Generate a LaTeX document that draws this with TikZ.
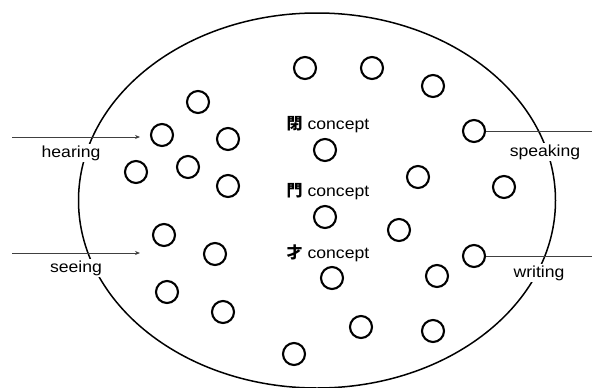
\documentclass[tikz,border=0pt]{standalone}
\usepackage{fontspec}
\setmainfont{Liberation Sans}[FakeStretch=1.1]
\newfontfamily\cjk{Noto Sans CJK JP}
\usetikzlibrary{arrows.meta}
\begin{document}
\begin{tikzpicture}[x=1pt,y=-1pt,
  dot/.style={circle,draw,line width=2.1pt,minimum size=22pt,inner sep=0pt},
  lab/.style={fill=white,inner sep=1.5pt,font=\fontsize{16}{19}\selectfont},
  con/.style={inner sep=1pt,font=\fontsize{16}{19}\selectfont},
  feed/.style={line width=0.8pt,draw=black!75,-{Stealth[length=5pt,width=4pt]}},
  outl/.style={line width=0.8pt,draw=black!75}]
\useasboundingbox (0,0) rectangle (592,388);
\draw[line width=1.5pt] (317,200.5) ellipse [x radius=238.5, y radius=187.5];
% circles
\node[dot] (c1) at (305,68) {};
\node[dot] (c2) at (372,68) {};
\node[dot] (c3) at (433,86) {};
\node[dot] (c4) at (198,102) {};
\node[dot] (c5) at (162,135) {};
\node[dot] (c6) at (228,139) {};
\node[dot] (c7) at (136,172) {};
\node[dot] (c8) at (188,167) {};
\node[dot] (c9) at (228,186) {};
\node[dot] (c10) at (325,150) {};
\node[dot] (c11) at (474,131) {};
\node[dot] (c12) at (418,177) {};
\node[dot] (c13) at (504,187) {};
\node[dot] (c14) at (325,217) {};
\node[dot] (c15) at (399,230) {};
\node[dot] (c16) at (164,235) {};
\node[dot] (c17) at (215,254) {};
\node[dot] (c18) at (474,256) {};
\node[dot] (c19) at (332,278) {};
\node[dot] (c20) at (437,276) {};
\node[dot] (c21) at (167,292) {};
\node[dot] (c22) at (223,312) {};
\node[dot] (c23) at (361,327) {};
\node[dot] (c24) at (433,331) {};
\node[dot] (c25) at (294,354) {};
% concept labels
\node[con] (k1) at (328,125) {{\cjk\bfseries 閉} concept};
\node[con] (k2) at (328,192) {{\cjk\bfseries 門} concept};
\node[con] (k3) at (328,253) {{\cjk\bfseries 才} concept};
% side labels
\node[lab] (hear) at (71,153) {hearing};
\node[lab] (see) at (76,268) {seeing};
\node[lab] (speak) at (545,152) {speaking};
\node[lab] (write) at (539,273) {writing};
% connectors
\coordinate (h0) at (12,137);
\coordinate (h1) at (140,137);
\coordinate (s0) at (12,253);
\coordinate (s1) at (140,253);
\coordinate (p1) at (592,131);
\coordinate (w1) at (592,256);
\draw[feed] (h0) -- (h1);
\draw[feed] (s0) -- (s1);
\draw[outl] (c11.east) -- (p1);
\draw[outl] (c18.east) -- (w1);
\end{tikzpicture}
\end{document}
